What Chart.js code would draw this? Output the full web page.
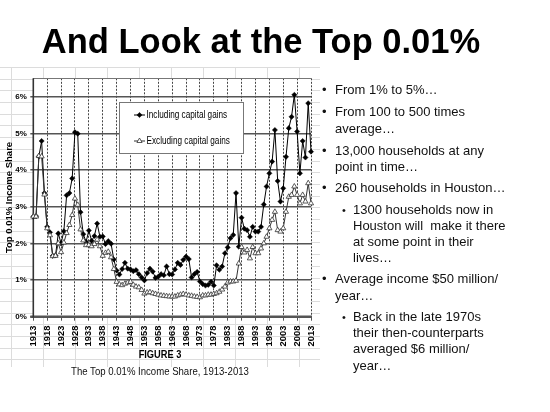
<!DOCTYPE html>
<html>
<head>
<meta charset="utf-8">
<script src="https://cdn.jsdelivr.net/npm/chart.js@4/dist/chart.umd.min.js"></script>
<style>
html,body{margin:0;padding:0;background:#fff;}
body{width:550px;height:412px;position:relative;overflow:hidden;font-family:"Liberation Sans",Arial,Helvetica,sans-serif;color:#000;}
#sheet{position:absolute;left:0;top:67px;width:320px;height:300px;
  background-image:
    repeating-linear-gradient(to bottom,#dcdcdc 0,#dcdcdc 1px,transparent 1px,transparent 11.7px),
    repeating-linear-gradient(to right,#dcdcdc 0,#dcdcdc 1px,transparent 1px,transparent 32px);
  background-position:0 0,11px 0;}
#wrap{position:absolute;left:0;top:0;width:330px;height:412px;}
#title{position:absolute;left:0;top:21px;width:522px;text-align:center;font-weight:bold;font-size:34.5px;line-height:40px;white-space:nowrap;}
.cap{position:absolute;left:0;width:320px;text-align:center;transform-origin:160px 50%;transform:scaleX(0.82);white-space:nowrap;}
#fig{top:348px;font-weight:bold;font-size:11.3px;line-height:13px;}
#sub{top:363.5px;font-size:11.7px;line-height:14px;color:#111;}
.l{position:absolute;font-size:13px;line-height:16px;white-space:pre;color:#111;}
.b{position:absolute;font-size:13px;line-height:16px;color:#111;}
.sb{position:absolute;font-size:11px;line-height:16px;color:#111;}
</style>
</head>
<body>
<div id="sheet"></div>
<div id="wrap"><canvas id="c" width="330" height="412" style="width:330px;height:412px"></canvas></div>
<div id="title">And Look at the Top 0.01%</div>
<div id="fig" class="cap">FIGURE 3</div>
<div id="sub" class="cap">The Top 0.01% Income Share, 1913-2013</div>

<div class="b" style="left:322px;top:81.8px">•</div><div class="l" style="left:335px;top:81.8px">From 1% to 5%…</div>
<div class="b" style="left:322px;top:104.2px">•</div><div class="l" style="left:335px;top:104.2px">From 100 to 500 times</div>
<div class="l" style="left:335px;top:120.8px">average…</div>
<div class="b" style="left:322px;top:142.5px">•</div><div class="l" style="left:335px;top:142.5px">13,000 households at any</div>
<div class="l" style="left:335px;top:159.2px">point in time…</div>
<div class="b" style="left:322px;top:180.2px">•</div><div class="l" style="left:335px;top:180.2px">260 households in Houston…</div>
<div class="sb" style="left:342px;top:201.5px">•</div><div class="l" style="left:353px;top:201.5px">1300 households now in</div>
<div class="l" style="left:353px;top:218.2px">Houston will  make it there</div>
<div class="l" style="left:353px;top:234.2px">at some point in their</div>
<div class="l" style="left:353px;top:250.2px">lives…</div>
<div class="b" style="left:322px;top:270.8px">•</div><div class="l" style="left:335px;top:270.8px">Average income $50 million/</div>
<div class="l" style="left:335px;top:287.5px">year…</div>
<div class="sb" style="left:342px;top:308.5px">•</div><div class="l" style="left:353px;top:308.5px">Back in the late 1970s</div>
<div class="l" style="left:353px;top:324.8px">their then-counterparts</div>
<div class="l" style="left:353px;top:341.2px">averaged $6 million/</div>
<div class="l" style="left:353px;top:357.5px">year…</div>

<script>
// ---- data ----
const years = [
  1913,1914,1915,1916,1917,1918,1919,1920,1921,1922,
  1923,1924,1925,1926,1927,1928,1929,1930,1931,1932,
  1933,1934,1935,1936,1937,1938,1939,1940,1941,1942,
  1943,1944,1945,1946,1947,1948,1949,1950,1951,1952,
  1953,1954,1955,1956,1957,1958,1959,1960,1961,1962,
  1963,1964,1965,1966,1967,1968,1969,1970,1971,1972,
  1973,1974,1975,1976,1977,1978,1979,1980,1981,1982,
  1983,1984,1985,1986,1987,1988,1989,1990,1991,1992,
  1993,1994,1995,1996,1997,1998,1999,2000,2001,2002,
  2003,2004,2005,2006,2007,2008,2009,2010,2011,2012,
  2013
];
const includingCapitalGains = [
  2.73,2.74,4.37,4.79,3.37,2.45,2.30,1.66,1.67,2.27,
  2.00,2.33,3.31,3.37,3.77,5.03,4.99,2.85,2.25,2.04,
  2.35,2.07,2.20,2.54,2.18,2.19,1.98,2.06,1.99,1.56,
  1.26,1.15,1.30,1.47,1.31,1.29,1.24,1.27,1.16,1.07,
  0.99,1.19,1.31,1.23,1.06,1.09,1.16,1.13,1.37,1.16,
  1.15,1.29,1.47,1.41,1.55,1.64,1.57,1.07,1.16,1.22,
  0.96,0.89,0.85,0.87,0.95,0.85,1.40,1.28,1.37,1.73,
  1.89,2.14,2.23,3.37,1.91,2.70,2.40,2.36,2.18,2.45,
  2.32,2.32,2.45,3.06,3.55,3.91,4.23,5.09,3.70,3.14,
  3.50,4.36,5.14,5.45,6.05,5.05,3.91,4.79,4.34,5.82,
  4.50
];
const excludingCapitalGains = [
  2.73,2.73,4.38,4.37,3.33,2.41,2.22,1.65,1.66,2.00,
  1.76,2.02,2.28,2.50,2.77,3.22,3.05,2.38,2.08,1.95,
  1.95,1.92,1.98,2.10,1.92,1.66,1.74,1.77,1.62,1.30,
  0.95,0.88,0.86,0.90,0.93,0.95,0.87,0.82,0.80,0.73,
  0.63,0.66,0.67,0.64,0.62,0.60,0.58,0.57,0.56,0.55,
  0.55,0.55,0.58,0.60,0.62,0.60,0.58,0.57,0.55,0.54,
  0.53,0.58,0.58,0.60,0.60,0.62,0.64,0.68,0.74,0.82,
  0.93,0.96,0.96,0.98,1.45,1.90,1.75,1.82,1.59,1.90,
  1.73,1.73,1.86,2.00,2.18,2.41,2.64,2.86,2.36,2.32,
  2.41,2.86,3.27,3.32,3.55,3.32,3.09,3.32,3.14,3.64,
  3.09
];
const xTickYears = [1913,1918,1923,1928,1933,1938,1943,1948,1953,1958,1963,1968,1973,1978,1983,1988,1993,1998,2003,2008,2013];
const yTickValues = [0,1,2,3,4,5,6];
const seriesNames = ['Including capital gains','Excluding capital gains'];
const yAxisTitle = 'Top 0.01% Income Share';

// ---- helpers ----
function drawMarker(ctx, ds, x, y){
  ctx.fillStyle = ds.pointBackgroundColor;
  ctx.strokeStyle = ds.pointBorderColor;
  ctx.lineWidth = ds.pointBorderWidth;
  if (Chart.helpers && Chart.helpers.drawPoint) {
    Chart.helpers.drawPoint(ctx, {pointStyle: ds.pointStyle, radius: ds.pointRadius, borderWidth: ds.pointBorderWidth, rotation: 0}, x, y);
    return;
  }
  const r = ds.pointRadius;
  ctx.beginPath();
  if (ds.pointStyle === 'rectRot') {
    ctx.moveTo(x, y - r); ctx.lineTo(x + r, y); ctx.lineTo(x, y + r); ctx.lineTo(x - r, y);
  } else {
    ctx.moveTo(x, y - r); ctx.lineTo(x + r * 0.87, y + r * 0.5); ctx.lineTo(x - r * 0.87, y + r * 0.5);
  }
  ctx.closePath(); ctx.fill(); ctx.stroke();
}

const framePlugin = {
  id: 'frame',
  beforeDraw(chart){
    const {ctx, chartArea: a} = chart;
    ctx.save();
    ctx.fillStyle = '#fff';
    ctx.fillRect(a.left, a.top, a.right - a.left, a.bottom - a.top);
    ctx.restore();
  },
  beforeDatasetsDraw(chart){
    const {ctx, chartArea: a} = chart;
    ctx.save();
    ctx.strokeStyle = '#777'; ctx.lineWidth = 1;
    ctx.beginPath(); ctx.moveTo(a.left, Math.round(a.top) + 0.5); ctx.lineTo(a.right, Math.round(a.top) + 0.5); ctx.stroke();
    ctx.strokeStyle = '#555'; ctx.lineWidth = 2.5;
    ctx.beginPath(); ctx.moveTo(a.left - 3, a.bottom); ctx.lineTo(a.right + 1, a.bottom); ctx.stroke();
    ctx.strokeStyle = '#333'; ctx.lineWidth = 1.6;
    ctx.beginPath(); ctx.moveTo(a.left, a.top); ctx.lineTo(a.left, a.bottom + 1); ctx.stroke();
    ctx.restore();
  },
  afterDatasetsDraw(chart){
    const {ctx, chartArea: a} = chart;
    const bx = Math.round(a.left + 86), by = Math.round(a.top + 24), bw = 124, bh = 51;
    ctx.save();
    ctx.fillStyle = '#fff';
    ctx.fillRect(bx, by, bw, bh);
    ctx.strokeStyle = '#777'; ctx.lineWidth = 1;
    ctx.strokeRect(bx + 0.5, by + 0.5, bw, bh);
    chart.data.datasets.forEach((ds, i) => {
      const cy = by + 13 + i * 26;
      ctx.strokeStyle = ds.borderColor; ctx.lineWidth = ds.borderWidth;
      ctx.beginPath(); ctx.moveTo(bx + 15, cy); ctx.lineTo(bx + 26, cy); ctx.stroke();
      drawMarker(ctx, ds, bx + 20.5, cy);
      ctx.save();
      ctx.translate(bx + 27.5, cy);
      ctx.scale(0.82, 1);
      ctx.fillStyle = '#000';
      ctx.font = '10px "Liberation Sans", Arial, sans-serif';
      ctx.textBaseline = 'middle';
      ctx.fillText(ds.label, 0, 0);
      ctx.restore();
    });
    ctx.restore();
  }
};

const boldFont = (size) => ({family: '"Liberation Sans", Arial, sans-serif', weight: 'bold', size: size});

new Chart(document.getElementById('c'), {
  type: 'line',
  data: {
    datasets: [
      {
        label: seriesNames[0],
        data: years.map((yr, i) => ({x: yr, y: includingCapitalGains[i]})),
        borderColor: '#000', borderWidth: 1,
        pointStyle: 'rectRot', pointRadius: 2.6,
        pointBackgroundColor: '#000', pointBorderColor: '#000', pointBorderWidth: 0.5,
        order: 1, clip: 6, tension: 0
      },
      {
        label: seriesNames[1],
        data: years.map((yr, i) => ({x: yr, y: excludingCapitalGains[i]})),
        borderColor: '#333', borderWidth: 1,
        pointStyle: 'triangle', pointRadius: 3,
        pointBackgroundColor: '#fff', pointBorderColor: '#333', pointBorderWidth: 0.8,
        order: 0, clip: 6, tension: 0
      }
    ]
  },
  options: {
    responsive: false,
    animation: false,
    devicePixelRatio: 1,
    layout: {padding: {left: 0, top: 78.3, right: 19, bottom: 65.3}},
    plugins: {legend: {display: false}, tooltip: {enabled: false}, title: {display: false}},
    scales: {
      x: {
        type: 'linear', min: years[0], max: years[years.length - 1],
        afterBuildTicks: (s) => { s.ticks = xTickYears.map(v => ({value: v})); },
        afterFit: (s) => { s.height = 30; },
        ticks: {autoSkip: false, minRotation: 90, maxRotation: 90, padding: 5, color: '#000',
                font: boldFont(9.3), callback: (v) => String(v)},
        grid: {color: '#444', lineWidth: 1, drawTicks: true, tickLength: 4, tickColor: '#555', tickWidth: 1},
        border: {display: false, dash: [2, 1.5]}
      },
      y: {
        type: 'linear', min: 0, max: 6.5,
        afterBuildTicks: (s) => { s.ticks = yTickValues.map(v => ({value: v})); },
        afterFit: (s) => { s.width = 33.3; },
        ticks: {padding: 3.5, color: '#000', font: boldFont(8), callback: (v) => v + '%'},
        grid: {color: '#555', lineWidth: 1.5, drawTicks: true, tickLength: 3, tickColor: '#555'},
        border: {display: false},
        title: {display: true, text: yAxisTitle, color: '#000', font: boldFont(9.5), padding: {top: 4, bottom: 0}}
      }
    }
  },
  plugins: [framePlugin]
});
</script>
</body>
</html>
